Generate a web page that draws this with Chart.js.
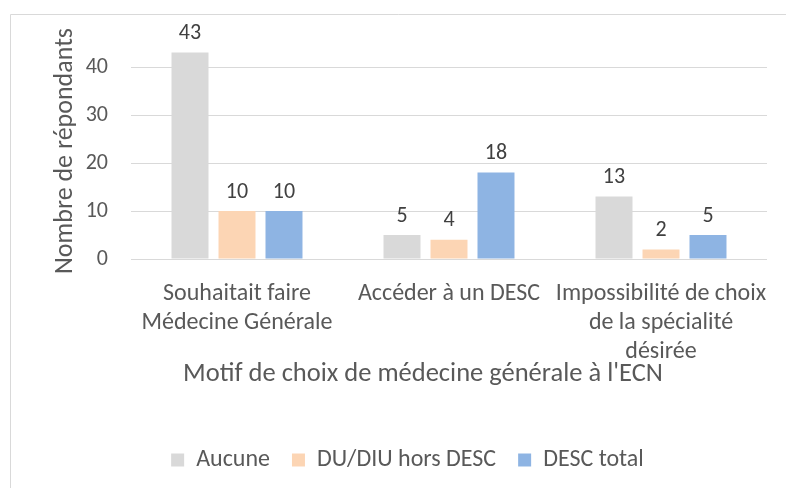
<!DOCTYPE html>
<html>
<head>
<meta charset="utf-8">
<script src="https://cdn.jsdelivr.net/npm/chart.js@4.4.1/dist/chart.umd.min.js"></script>
<style>
  html, body { margin: 0; padding: 0; background: #fff; }
  #wrap { width: 786px; height: 488px; position: relative; }
</style>
</head>
<body>
<div id="wrap"><canvas id="c"></canvas></div>
<script>
/* Motif de choix de médecine générale */

const categories = [
  ['Souhaitait faire', 'Médecine Générale'],
  ['Accéder à un DESC'],
  ['Impossibilité de choix', 'de la spécialité', 'désirée'],
];
const seriesNames = ['Aucune', 'DU/DIU hors DESC', 'DESC total'];
const aucune  = [43, 5, 13];
const duDiu   = [10, 4, 2];
const descTot = [10, 18, 5];
const yTicks  = [0, 10, 20, 30, 40];
const xTitle  = "Motif de choix de médecine générale à l'ECN";

const TXT   = '#595959';
const GRID  = '#d9d9d9';
const FONT  = "Carlito, Calibri, 'Open Sans', sans-serif";
const COLORS = ['#d9d9d9', '#fcd5b4', '#8eb4e3'];

/* value labels above each bar */
const barLabels = {
  id: 'barLabels',
  afterDatasetsDraw(chart) {
    const ctx = chart.ctx;
    ctx.save();
    ctx.font = `22px ${FONT}`;
    ctx.fillStyle = '#404040';
    ctx.textAlign = 'center';
    ctx.textBaseline = 'middle';
    chart.data.datasets.forEach((ds, i) => {
      chart.getDatasetMeta(i).data.forEach((bar, j) => {
        ctx.fillText(ds.data[j], bar.x, bar.y - 19);
      });
    });
    ctx.restore();
  }
};

/* chart frame (left + top edge) and the x axis title, set a bit left like Excel */
const frame = {
  id: 'frame',
  beforeDraw(chart) {
    const ctx = chart.ctx;
    ctx.save();
    ctx.strokeStyle = GRID;
    ctx.lineWidth = 1;
    ctx.beginPath();
    ctx.moveTo(10.5, chart.height);
    ctx.lineTo(10.5, 14.5);
    ctx.lineTo(chart.width, 14.5);
    ctx.stroke();
    ctx.restore();
  },
  afterDraw(chart) {
    const { ctx, chartArea: a } = chart;
    ctx.save();
    ctx.font = `26.5px ${FONT}`;
    ctx.fillStyle = TXT;
    ctx.textAlign = 'center';
    ctx.textBaseline = 'alphabetic';
    ctx.fillText(xTitle, (a.left + a.right) / 2 - 26, a.bottom + 122);
    ctx.restore();
  }
};

const datasets = [aucune, duDiu, descTot].map((vals, i) => ({
  label: seriesNames[i],
  data: vals,
  backgroundColor: COLORS[i],
  borderWidth: 0,
  barPercentage: 0.787,
  categoryPercentage: 0.665,
}));

new Chart(document.getElementById('c'), {
  type: 'bar',
  data: { labels: categories, datasets },
  plugins: [frame, barLabels],
  options: {
    responsive: true,
    maintainAspectRatio: false,
    animation: false,
    layout: { padding: { left: 48, right: 19, top: 43, bottom: 6 } },
    plugins: {
      tooltip: { enabled: false },
      legend: {
        position: 'bottom',
        labels: {
          color: TXT,
          font: { family: FONT, size: 24 },
          boxWidth: 13, boxHeight: 13,
          padding: 22,
        },
      },
    },
    scales: {
      x: {
        grid: { display: false },
        border: { display: false },
        ticks: {
          color: TXT,
          font: { family: FONT, size: 24, lineHeight: '29px' },
          padding: 12,
          maxRotation: 0,
          autoSkip: false,
        },
        afterFit: s => { s.height = 167; },
      },
      y: {
        min: 0, max: 45,
        afterBuildTicks: s => { s.ticks = yTicks.map(v => ({ value: v })); },
        grid: { color: GRID, drawTicks: false },
        border: { display: false },
        ticks: {
          color: TXT,
          font: { family: FONT, size: 22 },
          padding: 23,
        },
        title: {
          display: true, text: 'Nombre de répondants',
          color: TXT, font: { family: FONT, size: 26 },
          padding: { top: 2, bottom: 0 },
        },
        afterFit: s => { s.width = 83; },
      },
    },
  },
});
</script>
</body>
</html>
